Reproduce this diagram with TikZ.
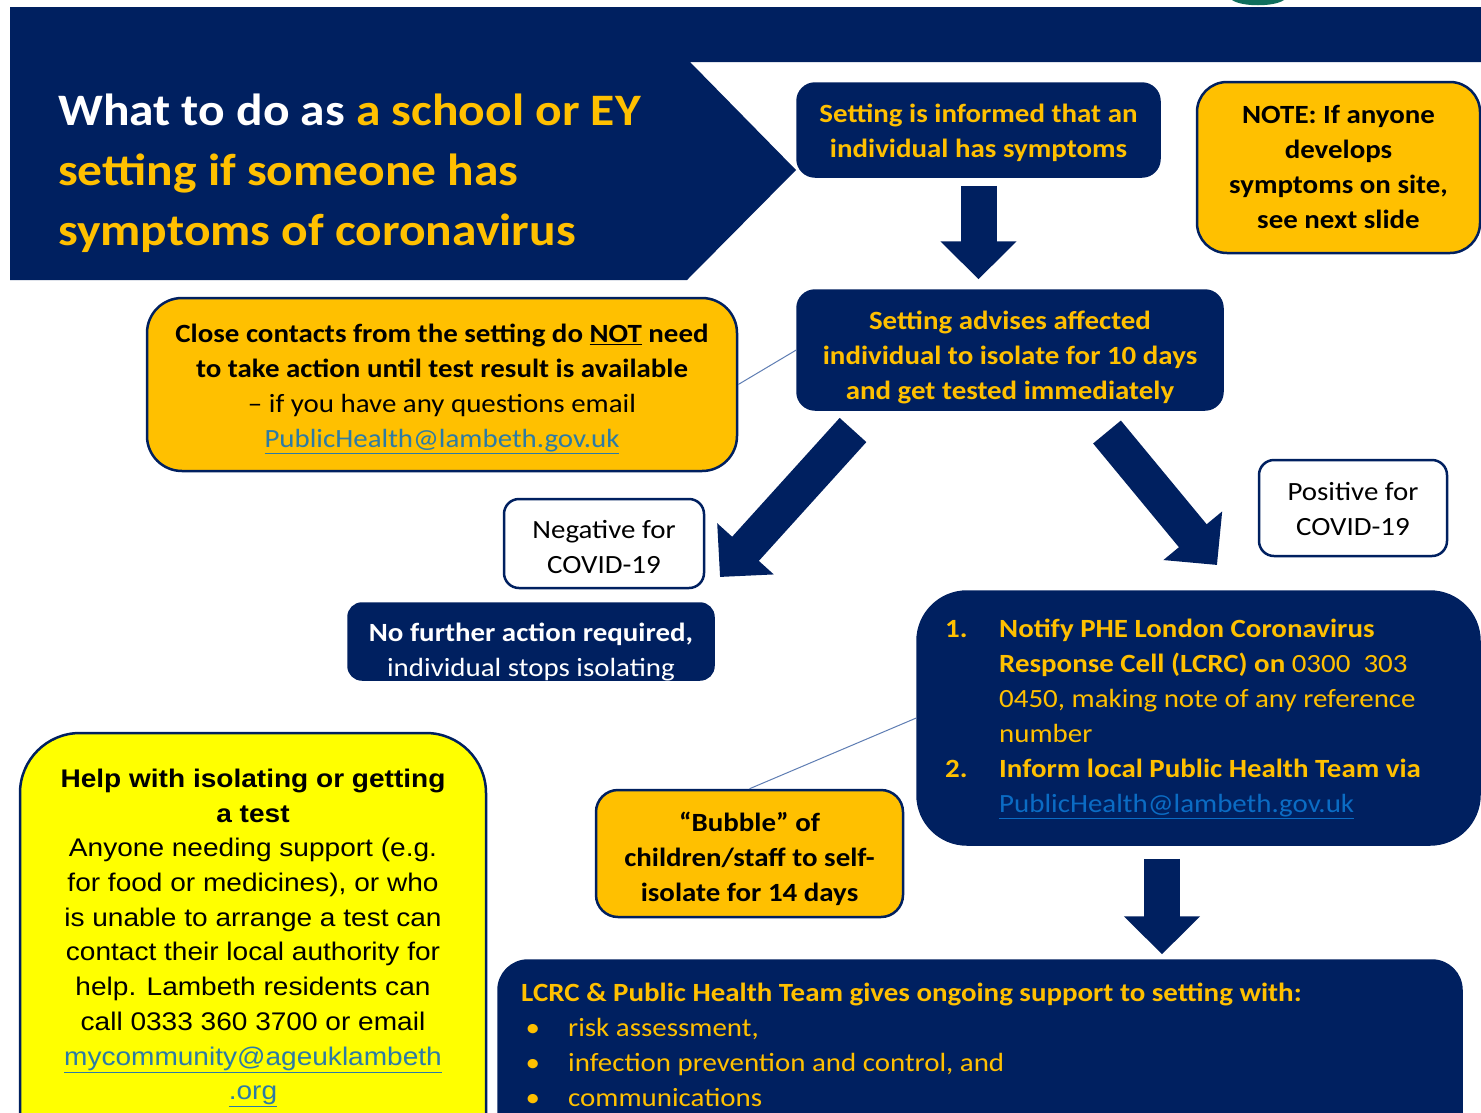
\documentclass[tikz,border=0pt]{standalone}
\usepackage{fontspec}
\setmainfont{Carlito}[FakeStretch=1.1]
\newfontfamily\arialf{Liberation Sans}[FakeStretch=1.1]
\usetikzlibrary{arrows.meta}
\definecolor{navy}{HTML}{002060}
\definecolor{gold}{HTML}{FFC000}
\definecolor{amber}{HTML}{FFC000}
\definecolor{yel}{HTML}{FFFF00}
\definecolor{linkteal}{HTML}{2C7BA6}
\definecolor{linkblue}{HTML}{0B6CC4}
\definecolor{logogreen}{HTML}{0F6E5C}
\definecolor{thinline}{HTML}{5E7DB3}
\begin{document}
\begin{tikzpicture}[x=1pt,y=-1pt,
 navybox/.style={fill=navy, draw=navy, line width=1.5pt, rounded corners=18pt, inner sep=0pt},
 amberbox/.style={fill=amber, draw=navy, line width=2.5pt, rounded corners=30pt, inner sep=0pt},
 whitebox/.style={fill=white, draw=navy, line width=2.5pt, rounded corners=15pt, inner sep=0pt},
 body/.style={font=\fontsize{26.3}{35}\selectfont, inner sep=0pt, align=center},
 helpfont/.style={font=\arialf\fontsize{25.5}{34.7}\selectfont, inner sep=0pt, align=center},
 bigarrow/.style={draw=navy, line width=36pt, -{Triangle[length=38pt,width=74pt]}},
 thinlink/.style={draw=thinline, line width=1pt},
]
\useasboundingbox (0,0) rectangle (1481,1112);
\clip (0,0) rectangle (1481,1112);
\fill[white] (0,0) rectangle (1481,1112);

% logo fragment
\fill[logogreen] (1232,0) .. controls (1242,7) and (1274,7) .. (1284,0) -- cycle;

% header
\fill[navy] (10,7) -- (1481,7) -- (1481,62) -- (690,62) -- (796,170) -- (687,280) -- (10,280) -- cycle;
\node[anchor=west, inner sep=0pt, align=left, font=\fontsize{45}{60}\selectfont\bfseries] (title) at (58,173)
 {{\color{white}What to do as} {\color{gold}a school or EY}\\
  {\color{gold}setting if someone has}\\
  {\color{gold}symptoms of coronavirus}};

% boxes
\node[navybox, minimum width=363pt, minimum height=94pt] (inform) at (978.5,130) {};
\node[body, text=gold, font=\fontsize{26.3}{35}\selectfont\bfseries] (informtext) at (978.5,133)
 {Setting is informed that an\\individual has symptoms};

\node[amberbox, minimum width=283pt, minimum height=171pt] (note) at (1338.5,167.5) {};
\node[body, font=\fontsize{26.3}{35}\selectfont\bfseries] (notetext) at (1338.5,166.5)
 {NOTE: If anyone\\develops\\symptoms on site,\\see next slide};

\node[navybox, minimum width=426pt, minimum height=120pt] (advise) at (1010,350) {};
\node[body, text=gold, font=\fontsize{26.3}{35}\selectfont\bfseries] (advisetext) at (1010,357)
 {Setting advises affected\\individual to isolate for 10 days\\and get tested immediately};

\node[amberbox, rounded corners=35pt, minimum width=590pt, minimum height=173pt] (close) at (442,384.5) {};
\node[body] (closetext) at (442,389)
 {\textbf{Close contacts from the setting do \underline{NOT} need}\\
  \textbf{to take action until test result is available}\\
  -- if you have any questions email\\
  {\color{linkteal}\underline{PublicHealth@lambeth.gov.uk}}};

\node[whitebox, minimum width=200pt, minimum height=89pt] (neg) at (604,543.5) {};
\node[body] (negtext) at (604,547) {Negative for\\COVID-19};

\node[whitebox, minimum width=188pt, minimum height=96pt] (pos) at (1353,508) {};
\node[body] (postext) at (1353,509) {Positive for\\COVID-19};

\node[navybox, rounded corners=14pt, minimum width=366pt, minimum height=77pt] (nofurther) at (531,641.5) {};
\node[body, text=white] (nofurthertext) at (531,652)
 {\textbf{No further action required,}\\individual stops isolating};

\node[navybox, rounded corners=50pt, minimum width=563pt, minimum height=254pt] (notify) at (1198.5,718) {};
\node[body, text=gold, align=left, anchor=west] (notifytext) at (945,719)
 {\makebox[54pt][l]{\textbf{1.}}\textbf{Notify PHE London Coronavirus}\\
  \hspace*{54pt}\textbf{Response Cell (LCRC) on} 0300 \ 303\\
  \hspace*{54pt}0450, making note of any reference\\
  \hspace*{54pt}number\\
  \makebox[54pt][l]{\textbf{2.}}\textbf{Inform local Public Health Team via}\\
  \hspace*{54pt}{\color{linkblue}\underline{PublicHealth@lambeth.gov.uk}}};

\node[amberbox, rounded corners=22pt, minimum width=307pt, minimum height=127pt] (bubble) at (749.5,853.5) {};
\node[body, font=\fontsize{26.3}{35}\selectfont\bfseries] (bubbletext) at (749.5,859)
 {“Bubble” of\\children/staff to self-\\isolate for 14 days};

\node[navybox, rounded corners=30pt, minimum width=964pt, minimum height=190pt] (support) at (980,1055) {};
\node[body, text=gold, align=left, anchor=west] (supporttext) at (521,1045)
 {\textbf{LCRC \& Public Health Team gives ongoing support to setting with:}\\
  \makebox[47pt][l]{\,•}risk assessment,\\
  \makebox[47pt][l]{\,•}infection prevention and control, and\\
  \makebox[47pt][l]{\,•}communications};

\node[fill=yel, draw=navy, line width=2.5pt, rounded corners=60pt, inner sep=0pt,
      minimum width=466pt, minimum height=440pt] (help) at (253,953) {};
\node[helpfont] (helptext) at (253,938)
 {\textbf{Help with isolating or getting}\\
  \textbf{a test}\\
  Anyone needing support (e.g.\\
  for food or medicines), or who\\
  is unable to arrange a test can\\
  contact their local authority for\\
  help. Lambeth residents can\\
  call 0333 360 3700 or email\\
  {\color{linkteal}\underline{mycommunity@ageuklambeth}}\\
  {\color{linkteal}\underline{.org}}};

% thin connectors
\draw[thinlink] (close.east) -- (advise.west);
\draw[thinlink] (notify.west) -- (bubble.north);

% block arrows
\draw[bigarrow, shorten <=8pt, shorten >=10pt] (inform.south) -- (inform.south |- advise.north);
\coordinate (negstart) at (853,430);
\coordinate (negtip) at (720,577);
\coordinate (posstart) at (1107,432);
\coordinate (postip) at (1217,565);
\draw[bigarrow] (negstart) -- (negtip);
\draw[bigarrow] (posstart) -- (postip);
\draw[bigarrow, shorten <=13pt, shorten >=5pt] ([xshift=-36.5pt]notify.south) -- ([xshift=-36.5pt]notify.south |- support.north);
\end{tikzpicture}
\end{document}
